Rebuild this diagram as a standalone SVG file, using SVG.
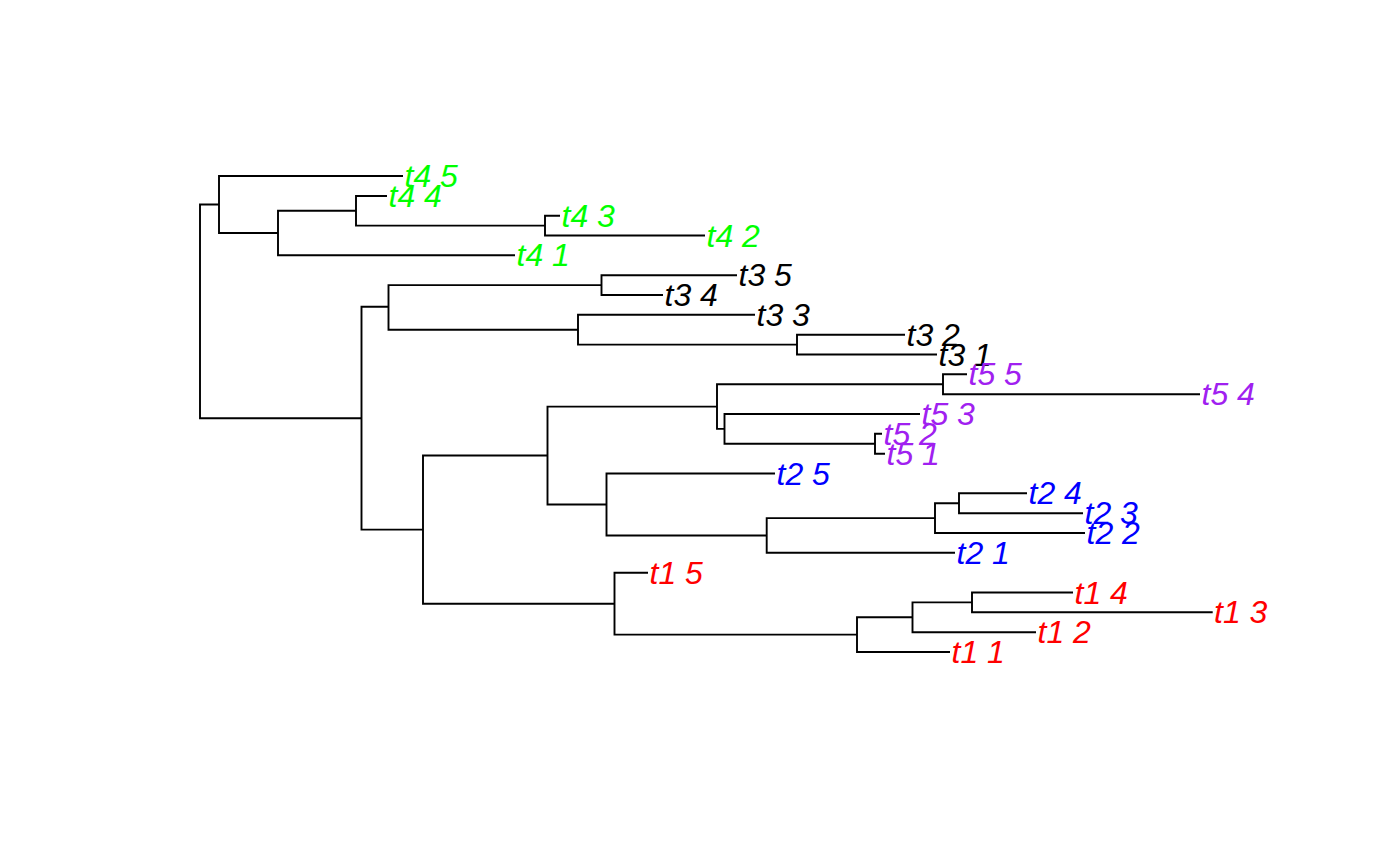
<svg xmlns="http://www.w3.org/2000/svg" width="1400" height="866" viewBox="0 0 1400 866">
<style>
.e{fill:none;stroke:#000;stroke-width:1.9;stroke-linejoin:miter;stroke-linecap:butt}
text{font-family:"Liberation Sans",Arial,sans-serif;font-style:italic;font-size:32px}
.g4{fill:#00FF00}.g3{fill:#000}.g5{fill:#A020F0}.g2{fill:#0000FF}.g1{fill:#FF0000}
</style>
<rect width="1400" height="866" fill="#fff"/>
<g id="connectors">
<path class="e" d="M200 311V204.5H219M200 311V418.2H361.5"/>
<path class="e" d="M219 204.5V176H403M219 204.5V233H278"/>
<path class="e" d="M278 233V210.8H356M278 233V255.3H515"/>
<path class="e" d="M356 210.8V196H387M356 210.8V225.6H545"/>
<path class="e" d="M545 225.6V215.7H560M545 225.6V235.5H705"/>
<path class="e" d="M361.5 418.2V306.8H388.5M361.5 418.2V529.6H423"/>
<path class="e" d="M388.5 306.8V285.1H601.5M388.5 306.8V329.7H578"/>
<path class="e" d="M601.5 285.1V275.2H737M601.5 285.1V295H663"/>
<path class="e" d="M578 329.7V314.8H755M578 329.7V344.6H797"/>
<path class="e" d="M797 344.6V334.7H905M797 344.6V354.5H937"/>
<path class="e" d="M423 529.6V455.5H547.5M423 529.6V603.7H614.5"/>
<path class="e" d="M547.5 455.5V406.6H717M547.5 455.5V504.5H606.5"/>
<path class="e" d="M717 406.6V384.25H943M717 406.6V428.9H724.5"/>
<path class="e" d="M943 384.25V374.3H967M943 384.25V394.2H1200"/>
<path class="e" d="M724.5 428.9V414H920M724.5 428.9V443.75H875"/>
<path class="e" d="M875 443.75V433.8H882M875 443.75V453.7H885"/>
<path class="e" d="M606.5 504.5V473.5H775M606.5 504.5V535.5H766.7"/>
<path class="e" d="M766.7 535.5V518.1H935M766.7 535.5V552.8H955"/>
<path class="e" d="M935 518.1V503.25H959M935 518.1V533H1085"/>
<path class="e" d="M959 503.25V493.3H1027M959 503.25V513.2H1083"/>
<path class="e" d="M614.5 603.7V572.7H648M614.5 603.7V634.65H857"/>
<path class="e" d="M857 634.65V617.3H912.5M857 634.65V652H950"/>
<path class="e" d="M912.5 617.3V602.4H972M912.5 617.3V632.2H1036"/>
<path class="e" d="M972 602.4V592.5H1073M972 602.4V612.3H1212.7"/>
</g>
<g id="t4_5"><text class="g4" x="404.5" y="187">t4 5</text></g>
<g id="t4_4"><text class="g4" x="388.5" y="207">t4 4</text></g>
<g id="t4_3"><text class="g4" x="561.5" y="226.7">t4 3</text></g>
<g id="t4_2"><text class="g4" x="706.5" y="246.5">t4 2</text></g>
<g id="t4_1"><text class="g4" x="516.5" y="266.3">t4 1</text></g>
<g id="t3_5"><text class="g3" x="738.5" y="286.2">t3 5</text></g>
<g id="t3_4"><text class="g3" x="664.5" y="306">t3 4</text></g>
<g id="t3_3"><text class="g3" x="756.5" y="325.8">t3 3</text></g>
<g id="t3_2"><text class="g3" x="906.5" y="345.7">t3 2</text></g>
<g id="t3_1"><text class="g3" x="938.5" y="365.5">t3 1</text></g>
<g id="t5_5"><text class="g5" x="968.5" y="385.3">t5 5</text></g>
<g id="t5_4"><text class="g5" x="1201.5" y="405.2">t5 4</text></g>
<g id="t5_3"><text class="g5" x="921.5" y="425">t5 3</text></g>
<g id="t5_2"><text class="g5" x="883.5" y="444.8">t5 2</text></g>
<g id="t5_1"><text class="g5" x="886.5" y="464.7">t5 1</text></g>
<g id="t2_5"><text class="g2" x="776.5" y="484.5">t2 5</text></g>
<g id="t2_4"><text class="g2" x="1028.5" y="504.3">t2 4</text></g>
<g id="t2_3"><text class="g2" x="1084.5" y="524.2">t2 3</text></g>
<g id="t2_2"><text class="g2" x="1086.5" y="544">t2 2</text></g>
<g id="t2_1"><text class="g2" x="956.5" y="563.8">t2 1</text></g>
<g id="t1_5"><text class="g1" x="649.5" y="583.7">t1 5</text></g>
<g id="t1_4"><text class="g1" x="1074.5" y="603.5">t1 4</text></g>
<g id="t1_3"><text class="g1" x="1214" y="623.3">t1 3</text></g>
<g id="t1_2"><text class="g1" x="1037.5" y="643.2">t1 2</text></g>
<g id="t1_1"><text class="g1" x="951.5" y="663">t1 1</text></g>
</svg>
